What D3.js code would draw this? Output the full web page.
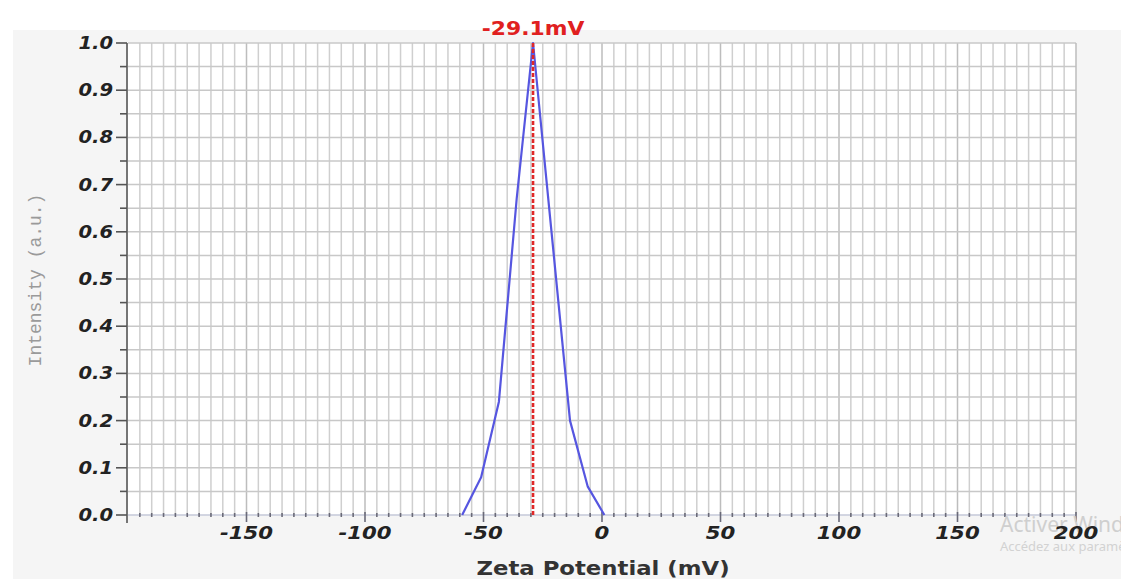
<!DOCTYPE html>
<html>
<head>
<meta charset="utf-8">
<script src="https://cdn.jsdelivr.net/npm/d3@7"></script>
<style>
html,body{margin:0;padding:0;background:#fff;}
svg{display:block;}
</style>
</head>
<body>
<svg id="chart" width="1121" height="579"></svg>
<script>
// ---- data ----
const zeta = [-59, -51, -43.5, -36, -29.1, -21.5, -13.5, -6, 1];
const intensity = [0, 0.08, 0.24, 0.67, 1.0, 0.61, 0.2, 0.06, 0];
const peakValue = -29.1;
const peakLabel = "-29.1mV";
const xTickValues = [-150, -100, -50, 0, 50, 100, 150, 200];
const yTickValues = [0, 0.1, 0.2, 0.3, 0.4, 0.5, 0.6, 0.7, 0.8, 0.9, 1.0];
const xLabel = "Zeta Potential (mV)";
const yLabel = "Intensity (a.u.)";

// ---- layout ----
const W = 1121, H = 579;
const pL = 128, pR = 1076, pT = 43, pB = 515;
const svg = d3.select("#chart");

const x = d3.scaleLinear().domain([-200, 200]).range([pL, pR]);
const y = d3.scaleLinear().domain([0, 1]).range([pB, pT]);

// backgrounds
svg.append("rect").attr("x", 13).attr("y", 30).attr("width", W - 13).attr("height", H - 30).attr("fill", "#f5f5f5");
svg.append("rect").attr("x", pL).attr("y", pT).attr("width", pR - pL).attr("height", pB - pT).attr("fill", "#fff");

// grid
const xGrid = d3.range(-195, 200, 5);
svg.append("g").selectAll("line").data(xGrid).join("line")
  .attr("x1", d => x(d)).attr("x2", d => x(d))
  .attr("y1", pT).attr("y2", pB)
  .attr("stroke", d => (d % 50 === 0) ? "#bdbdbd" : "#cfcfcf")
  .attr("stroke-width", 1.5);
const yGrid = d3.range(1, 21).map(i => i * 0.05);
svg.append("g").selectAll("line").data(yGrid).join("line")
  .attr("x1", pL).attr("x2", pR)
  .attr("y1", d => y(d)).attr("y2", d => y(d))
  .attr("stroke", "#c8c8c8").attr("stroke-width", 1.5);
// right border
svg.append("line").attr("x1", pR).attr("x2", pR).attr("y1", pT).attr("y2", pB)
  .attr("stroke", "#bdbdbd").attr("stroke-width", 1.5);

const tickFont = sel => sel
  .attr("font-family", "DejaVu Sans").attr("font-weight", "bold").attr("font-style", "italic")
  .attr("font-size", 17).attr("fill", "#222");

// x axis
const gx = svg.append("g").attr("transform", `translate(0,${pB})`);
gx.append("line").attr("x1", pL).attr("x2", pR).attr("stroke", "#c5c8d8").attr("stroke-width", 1.5);
gx.selectAll(".minor").data(d3.range(-195, 205, 5)).join("line")
  .attr("x1", d => x(d)).attr("x2", d => x(d))
  .attr("y1", d => d % 50 === 0 ? -3 : -2).attr("y2", d => d % 50 === 0 ? 7 : 2)
  .attr("stroke", "#6a6a78").attr("stroke-width", 1.6);

// y axis
const gy = svg.append("g");
gy.append("line").attr("x1", pL - 1).attr("x2", pL - 1).attr("y1", pT).attr("y2", pB + 8)
  .attr("stroke", "#555").attr("stroke-width", 1.6);
gy.selectAll(".tk").data(d3.range(0, 21).map(i => i * 0.05)).join("line")
  .attr("x1", (d, i) => i % 2 === 0 ? pL - 12 : pL - 8).attr("x2", pL - 1)
  .attr("y1", d => y(d)).attr("y2", d => y(d))
  .attr("stroke", "#555").attr("stroke-width", 1.6);
gy.selectAll("text").data(yTickValues).join("text")
  .attr("transform", d => `translate(${pL - 15},${y(d) + 6}) scale(1.15,1)`)
  .attr("text-anchor", "end")
  .call(tickFont)
  .text(d => d.toFixed(1));

// axis labels
svg.append("text").attr("transform", "translate(603,575) scale(1.2,1)").attr("text-anchor", "middle")
  .attr("font-family", "DejaVu Sans").attr("font-weight", "bold")
  .attr("font-size", 19).attr("fill", "#333").text(xLabel);
svg.append("text").attr("transform", "translate(41,280) rotate(-90)").attr("text-anchor", "middle")
  .attr("font-family", "Liberation Mono").attr("font-size", 18).attr("fill", "#9a9a9a").text(yLabel);

// data line
const pts = zeta.map((v, i) => [v, intensity[i]]);
svg.append("path").datum(pts)
  .attr("d", d3.line().x(d => x(d[0])).y(d => y(d[1])))
  .attr("fill", "none").attr("stroke", "#5656e0").attr("stroke-width", 2.2).attr("stroke-linejoin", "round");

// peak marker
svg.append("line").attr("x1", x(peakValue)).attr("x2", x(peakValue)).attr("y1", pT).attr("y2", pB)
  .attr("stroke", "#e02828").attr("stroke-width", 2.6).attr("stroke-dasharray", "4,2");
svg.append("text").attr("transform", `translate(${x(peakValue)},35) scale(1.15,1)`).attr("text-anchor", "middle")
  .attr("font-family", "DejaVu Sans").attr("font-weight", "bold")
  .attr("font-size", 19).attr("fill", "#e02020").text(peakLabel);

// watermark
svg.append("text").attr("x", 1000).attr("y", 532).attr("font-family", "Noto Sans")
  .attr("font-size", 21).attr("fill", "#cfcfcf").text("Activer Windows");
svg.append("text").attr("x", 1000).attr("y", 551).attr("font-family", "Noto Sans")
  .attr("font-size", 13).attr("fill", "#d2d2d2").text("Accédez aux paramètres");

// x tick labels (on top of watermark)
svg.append("g").selectAll("text").data(xTickValues).join("text")
  .attr("transform", d => `translate(${x(d)},${pB + 24}) scale(1.25,1)`)
  .attr("text-anchor", "middle")
  .call(tickFont)
  .text(d => d);
</script>
</body>
</html>
